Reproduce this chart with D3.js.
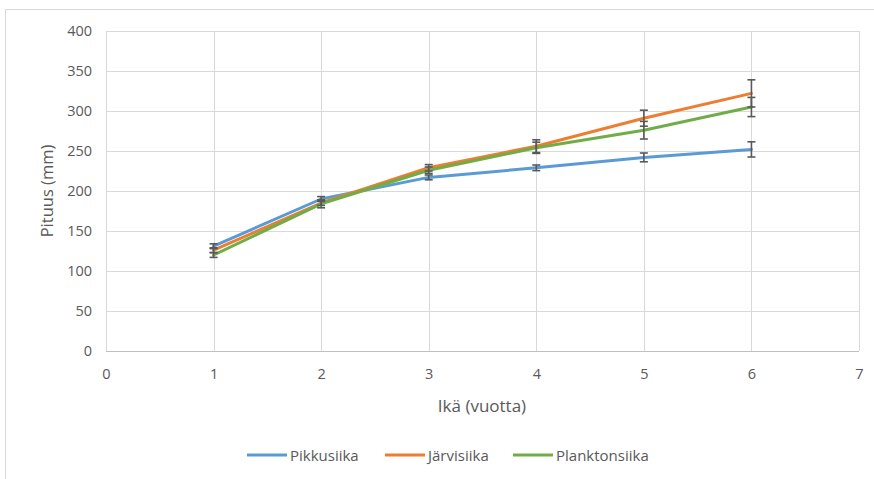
<!DOCTYPE html>
<html><head><meta charset="utf-8">
<script src="https://cdn.jsdelivr.net/npm/d3@7"></script>
<style>body{margin:0;background:#fff}text{font-family:"Open Sans",sans-serif;fill:#595959}</style>
</head><body><svg id="c" width="874" height="479"></svg>
<script>
const ages = [1,2,3,4,5,6];
const seriesNames = ["Pikkusiika","Järvisiika","Planktonsiika"];
const colors = ["#5B9BD5","#ED7D31","#70AD47"];
const pikkusiika = [131,190,217,229,242,252];
const pikkusiikaErr = [3,3,3,3.5,5.5,9.5];
const jarvisiika = [126,185,229,256,291,322];
const jarvisiikaErr = [3,3,4,8,10,17];
const planktonsiika = [120,184,226,254,276,305];
const planktonsiikaErr = [3,5,4,7,11,12];
const xTicks = [0,1,2,3,4,5,6,7];
const yTicks = [0,50,100,150,200,250,300,350,400];

const series = [
  {name:seriesNames[0], vals:pikkusiika, err:pikkusiikaErr, color:colors[0]},
  {name:seriesNames[1], vals:jarvisiika, err:jarvisiikaErr, color:colors[1]},
  {name:seriesNames[2], vals:planktonsiika, err:planktonsiikaErr, color:colors[2]}
];

const svg = d3.select("#c");
svg.append("rect").attr("x",5.5).attr("y",9.5).attr("width",900).attr("height",500)
  .attr("fill","none").attr("stroke","#d9d9d9");

const x = d3.scaleLinear().domain([0,7]).range([106,859]);
const y = d3.scaleLinear().domain([0,400]).range([351,31]);

// grid
svg.append("g").selectAll("line").data(yTicks).join("line")
  .attr("x1",x(0)).attr("x2",x(7)).attr("y1",d=>Math.round(y(d))+0.5).attr("y2",d=>Math.round(y(d))+0.5)
  .attr("stroke","#d9d9d9").attr("stroke-width",1);
svg.append("g").selectAll("line").data(xTicks).join("line")
  .attr("y1",y(0)).attr("y2",y(400)).attr("x1",d=>Math.round(x(d))+0.5).attr("x2",d=>Math.round(x(d))+0.5)
  .attr("stroke","#d9d9d9").attr("stroke-width",1);
svg.append("line").attr("x1",x(0)).attr("x2",x(7)).attr("y1",Math.round(y(0))+0.5).attr("y2",Math.round(y(0))+0.5)
  .attr("stroke","#bfbfbf");

// axes labels
const yAxis = d3.axisLeft(y).tickValues(yTicks).tickFormat(d3.format("d")).tickSize(0).tickPadding(14);
const ga = svg.append("g").attr("transform",`translate(${x(0)},0)`).call(yAxis);
ga.select(".domain").remove();
ga.selectAll("text").style("font-size","14.5px").style("font-family","'Open Sans',sans-serif").attr("fill","#595959");
const xAxis = d3.axisBottom(x).tickValues(xTicks).tickFormat(d3.format("d")).tickSize(0).tickPadding(18);
const gx = svg.append("g").attr("transform",`translate(0,${y(0)})`).call(xAxis);
gx.select(".domain").remove();
gx.selectAll("text").style("font-size","14.5px").style("font-family","'Open Sans',sans-serif").attr("fill","#595959");

svg.append("text").attr("x",482).attr("y",412).attr("text-anchor","middle")
  .style("font-size","17px").text("Ikä (vuotta)");
svg.append("text").attr("transform",`translate(53,${191}) rotate(-90)`).attr("text-anchor","middle")
  .style("font-size","16.5px").text("Pituus (mm)");

// lines
const line = d3.line().x((d,i)=>x(ages[i])).y(d=>y(d));
series.forEach(s=>{
  svg.append("path").datum(s.vals).attr("d",line).attr("fill","none")
    .attr("stroke",s.color).attr("stroke-width",3).attr("stroke-linejoin","round").attr("stroke-linecap","round");
});
// error bars
series.forEach(s=>{
  const g = svg.append("g").attr("stroke","#595959").attr("stroke-width",1.6);
  s.vals.forEach((v,i)=>{
    const cx = x(ages[i]), t = y(v+s.err[i]), b = y(v-s.err[i]);
    g.append("line").attr("x1",cx).attr("x2",cx).attr("y1",t).attr("y2",b);
    g.append("line").attr("x1",cx-4).attr("x2",cx+4).attr("y1",t).attr("y2",t);
    g.append("line").attr("x1",cx-4).attr("x2",cx+4).attr("y1",b).attr("y2",b);
  });
});

// legend
const legX = [247,385,513];
series.forEach((s,i)=>{
  svg.append("line").attr("x1",legX[i]).attr("x2",legX[i]+40).attr("y1",455).attr("y2",455)
    .attr("stroke",s.color).attr("stroke-width",3);
  svg.append("text").attr("x",legX[i]+43).attr("y",460.5).style("font-size","15px").text(s.name);
});
</script></body></html>
